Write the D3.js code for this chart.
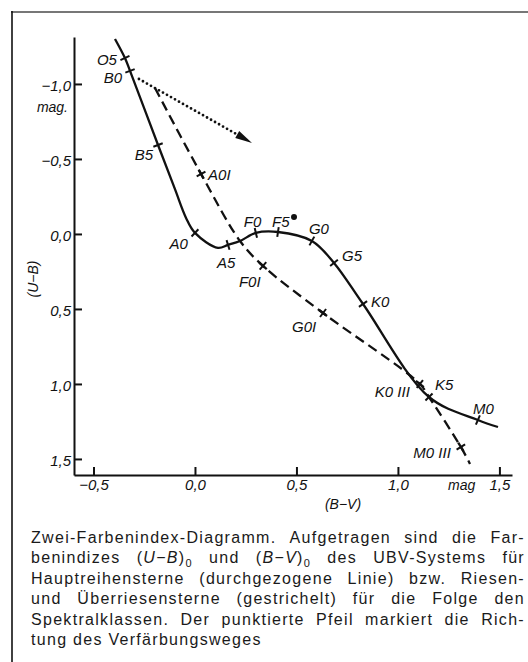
<!DOCTYPE html>
<html>
<head>
<meta charset="utf-8">
<script src="https://cdn.jsdelivr.net/npm/d3@7"></script>
<style>
  body { margin: 0; background: #fff; }
  svg { display: block; }
</style>
</head>
<body>
<svg id="chart" width="528" height="662"></svg>
<script>
// main sequence (solid line), B-V and U-B in mag, "" = point without mark
const msBV = [-0.394, -0.345, -0.320, -0.182, -0.099, -0.044, 0.000, 0.113, 0.163, 0.222, 0.300, 0.409, 0.576, 0.685, 0.828, 1.153, 1.394, 1.493];
const msUB = [-1.300, -1.173, -1.087, -0.593, -0.300, -0.107, -0.007, 0.093, 0.073, 0.047, -0.007, -0.013, 0.047, 0.193, 0.467, 1.087, 1.240, 1.287];
const msLabel = ["", "O5", "B0", "B5", "", "", "A0", "", "A5", "", "F0", "F5", "G0", "G5", "K0", "K5", "M0", ""];

// giants and supergiants (dashed)
const gBV = [-0.197, 0.030, 0.222, 0.335, 0.631, 1.108, 1.153, 1.310, 1.355];
const gUB = [-0.973, -0.400, 0.047, 0.213, 0.527, 1.000, 1.087, 1.420, 1.533];
const gLabel = ["", "A0I", "", "F0I", "G0I", "K0 III", "", "M0 III", ""];

// single dot near F5 and the dotted reddening arrow
const dotBV = [0.488];
const dotUB = [-0.113];
const arrowBV = [-0.276, 0.281];
const arrowUB = [-1.033, -0.607];

const bvTicks = [-0.5, 0, 0.5, 1.0, 1.5];
const ubTicks = [-1.0, -0.5, 0, 0.5, 1.0, 1.5];

const caption = [
  "Zwei-Farbenindex-Diagramm. Aufgetragen sind die Far-",
  "benindizes (*U*−*B*)_0 und (*B*−*V*)_0 des UBV-Systems für",
  "Hauptreihensterne (durchgezogene Linie) bzw. Riesen-",
  "und Überriesensterne (gestrichelt) für die Folge den",
  "Spektralklassen. Der punktierte Pfeil markiert die Rich-",
  "tung des Verfärbungsweges"
];

// label placement: dx, dy from the mark, text-anchor
const labelPos = {
  "O5": [-8, 7, "end"], "B0": [-8, 12, "end"], "B5": [-5, 15, "end"], "A0": [-7, 16, "end"],
  "A5": [-11, 23, "start"], "F0": [-12, -6, "start"], "F5": [-6, -5, "start"], "G0": [-3, -7, "start"],
  "G5": [8, -2, "start"], "K0": [8, 3, "start"], "K5": [6, -7, "start"], "M0": [-5, -6, "start"],
  "A0I": [7, 6, "start"], "F0I": [-24, 21, "start"], "G0I": [-31, 19, "start"],
  "K0 III": [-10, 13, "end"], "M0 III": [-10, 11, "end"]
};

const W = 528, H = 662;
const font = "'Liberation Sans', Arial, sans-serif";
const ink = "#111";
const svg = d3.select("#chart");

// frame of the page
svg.append("line").attr("x1", 11).attr("x2", W).attr("y1", 12).attr("y2", 12)
  .attr("stroke", "#777").attr("stroke-width", 2.2);
svg.append("line").attr("x1", 12).attr("x2", 12).attr("y1", 11).attr("y2", H)
  .attr("stroke", ink).attr("stroke-width", 1.6);

const x = d3.scaleLinear().domain([-0.596, 1.562]).range([74, 512]);
const y = d3.scaleLinear().domain([-1.313, 1.607]).range([37, 475]);

const fmt = d => (d < 0 ? "−" : "") + Math.abs(d).toFixed(1).replace(".", ",");

const gy = svg.append("g").attr("transform", "translate(74,0)")
  .call(d3.axisLeft(y).tickValues(ubTicks).tickSize(-8).tickSizeOuter(0).tickPadding(3).tickFormat(fmt));
const gx = svg.append("g").attr("transform", "translate(0,475)")
  .call(d3.axisBottom(x).tickValues(bvTicks).tickSize(-8).tickSizeOuter(0).tickPadding(4).tickFormat(fmt));
[gy, gx].forEach(g => {
  g.attr("font-family", font).attr("font-size", 15).attr("font-style", "italic");
  g.selectAll("path, line").attr("stroke", ink).attr("stroke-width", 2);
  g.selectAll("text").attr("fill", ink);
});
gy.selectAll("text").attr("dy", "0.42em");

function italicText(sel, parts) {
  parts.forEach(p => sel.append("tspan").attr("font-style", p[1] ? "italic" : "normal").text(p[0]));
  return sel;
}

// axis titles
svg.append("text").attr("x", 68).attr("y", 112).attr("text-anchor", "end")
  .attr("font-family", font).attr("font-size", 14).attr("font-style", "italic").attr("fill", ink).text("mag.");
svg.append("text").attr("x", 448).attr("y", 490)
  .attr("font-family", font).attr("font-size", 14).attr("font-style", "italic").attr("fill", ink).text("mag");
italicText(svg.append("text").attr("x", 343).attr("y", 509).attr("text-anchor", "middle")
  .attr("font-family", font).attr("font-size", 14).attr("font-style", "italic").attr("fill", ink),
  [["(", 1], ["B", 1], ["−", 1], ["V", 1], [")", 1]]);
italicText(svg.append("text").attr("transform", "translate(38,279) rotate(-90)").attr("text-anchor", "middle")
  .attr("font-family", font).attr("font-size", 14).attr("font-style", "italic").attr("fill", ink),
  [["(", 1], ["U", 1], ["−", 1], ["B", 1], [")", 1]]);

// curves
const curve = d3.line().x(d => x(d[0])).y(d => y(d[1])).curve(d3.curveCatmullRom.alpha(0.5));
const msPts = msBV.map((v, i) => [v, msUB[i]]);
const gPts = gBV.map((v, i) => [v, gUB[i]]);

svg.append("path").attr("d", curve(gPts)).attr("fill", "none")
  .attr("stroke", ink).attr("stroke-width", 2.3).attr("stroke-dasharray", "10,5.5");
svg.append("path").attr("d", curve(msPts)).attr("fill", "none")
  .attr("stroke", ink).attr("stroke-width", 2.3);

function marks(pts, labels, cross) {
  const px = pts.map(p => [x(p[0]), y(p[1])]);
  labels.forEach((lab, i) => {
    if (!lab) return;
    const a = px[Math.max(i - 1, 0)], b = px[Math.min(i + 1, px.length - 1)];
    let tx = b[0] - a[0], ty = b[1] - a[1];
    const n = Math.hypot(tx, ty);
    tx /= n; ty /= n;
    const [cx, cy] = px[i], h = 5;
    svg.append("line").attr("x1", cx - ty * h).attr("y1", cy + tx * h)
      .attr("x2", cx + ty * h).attr("y2", cy - tx * h)
      .attr("stroke", ink).attr("stroke-width", 2);
    if (cross) {
      svg.append("line").attr("x1", cx - tx * h).attr("y1", cy - ty * h)
        .attr("x2", cx + tx * h).attr("y2", cy + ty * h)
        .attr("stroke", ink).attr("stroke-width", 2.3);
    }
    const o = labelPos[lab];
    svg.append("text").attr("x", cx + o[0]).attr("y", cy + o[1]).attr("text-anchor", o[2])
      .attr("font-family", font).attr("font-size", 15).attr("font-style", "italic")
      .attr("fill", ink).text(lab);
  });
}
marks(msPts, msLabel, false);
marks(gPts, gLabel, true);

// dot
svg.selectAll(".dot").data(dotBV).join("circle").attr("class", "dot")
  .attr("cx", d => x(d)).attr("cy", (d, i) => y(dotUB[i])).attr("r", 3).attr("fill", ink);

// dotted arrow with filled head
const ax0 = x(arrowBV[0]), ay0 = y(arrowUB[0]), ax1 = x(arrowBV[1]), ay1 = y(arrowUB[1]);
const al = Math.hypot(ax1 - ax0, ay1 - ay0), ux = (ax1 - ax0) / al, uy = (ay1 - ay0) / al;
const headL = 17, headW = 4;
svg.append("line").attr("x1", ax0).attr("y1", ay0)
  .attr("x2", ax1 - ux * headL).attr("y2", ay1 - uy * headL)
  .attr("stroke", ink).attr("stroke-width", 2.8).attr("stroke-linecap", "round")
  .attr("stroke-dasharray", "0,4.6");
const bx = ax1 - ux * headL, by = ay1 - uy * headL;
svg.append("path")
  .attr("d", `M${ax1},${ay1}L${bx - uy * headW},${by + ux * headW}L${bx + uy * headW},${by - ux * headW}Z`)
  .attr("fill", ink);

// caption, justified by spreading the words
const capLeft = 31, capRight = 525, capTop = 543, capStep = 20.4, capLs = 1.3;
caption.forEach((ln, li) => {
  const words = ln.split(" ");
  const nodes = words.map(w => {
    const t = svg.append("text").attr("y", capTop + li * capStep)
      .attr("font-family", font).attr("font-size", 16).attr("letter-spacing", capLs).attr("fill", "#1a1a1a");
    const re = /\*([^*]+)\*|_(\w)|([^*_]+)/g;
    let m;
    while ((m = re.exec(w)) !== null) {
      if (m[1]) t.append("tspan").attr("font-style", "italic").text(m[1]);
      else if (m[2]) t.append("tspan").attr("font-size", 11).attr("dy", 4).text(m[2])
        .call(s => t.append("tspan").attr("dy", -4).text(""));
      else t.append("tspan").text(m[3]);
    }
    return t;
  });
  const widths = nodes.map(t => t.node().getComputedTextLength());
  const total = d3.sum(widths);
  const last = li === caption.length - 1;
  const gap = last ? 4.4 + capLs : (capRight - capLeft - total) / (words.length - 1);
  let cx = capLeft;
  nodes.forEach((t, i) => { t.attr("x", cx); cx += widths[i] + gap; });
});
</script>
</body>
</html>
